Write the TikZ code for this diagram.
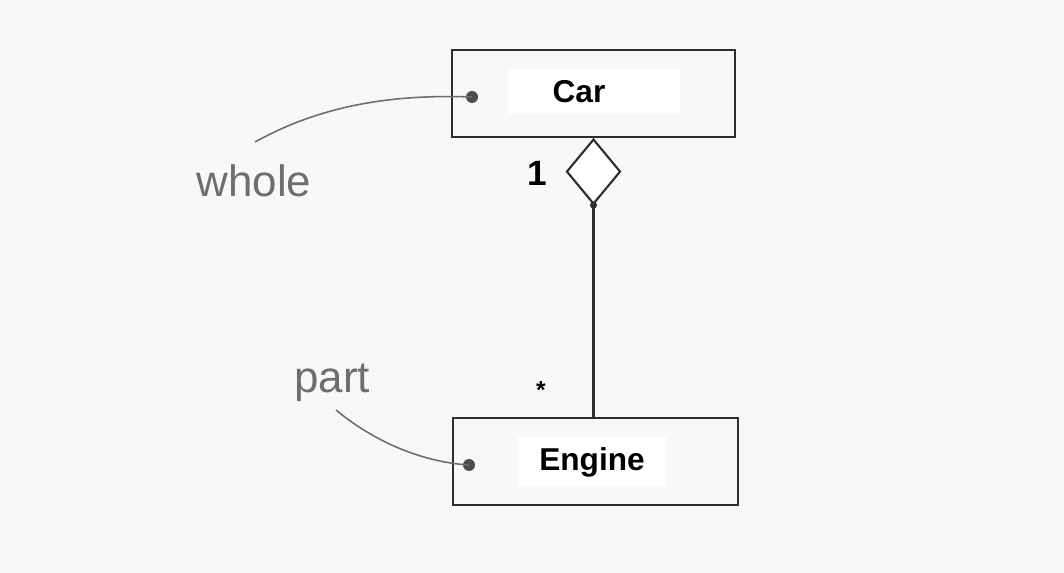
\documentclass[tikz,border=0pt]{standalone}
\usepackage{fontspec}
\setmainfont{Liberation Sans}
\usetikzlibrary{shapes.geometric}
\definecolor{boxline}{HTML}{2E2E2E}
\definecolor{notegray}{HTML}{6E6E6E}
\definecolor{paper}{HTML}{F8F8F8}

\begin{document}
\begin{tikzpicture}[x=0.02cm,y=-0.02cm,
  classbox/.style={rectangle,draw=boxline,line width=1.2pt,inner sep=0pt},
  namebox/.style={rectangle,fill=white,inner sep=0pt},
  classname/.style={inner sep=0pt,font=\fontsize{18}{20}\selectfont\bfseries},
  rolenote/.style={text=notegray,inner sep=0pt,font=\fontsize{25}{28}\selectfont},
  roleline/.style={notegray,line width=0.9pt},
  enddot/.style={circle,fill=boxline!85,inner sep=0pt,minimum size=0.24cm},
  mult/.style={inner sep=0pt,font=\fontsize{20}{22}\selectfont\bfseries}]

% ---- page ----------------------------------------------------------------
\fill[paper] (0,0) rectangle (1064,573);
\useasboundingbox (0,0) rectangle (1064,573);

% ---- the two classes -----------------------------------------------------
\node[classbox,minimum width=5.66cm,minimum height=1.74cm] (car)    at (593.5,93.5)  {};
\node[namebox,minimum width=3.44cm,minimum height=0.9cm]   (carbg)  at (594,92)      {};
\node[classname] (carname) at (579,92) {Car};
\node[classbox,minimum width=5.7cm,minimum height=1.74cm]  (engine) at (595.5,461.5) {};
\node[namebox,minimum width=2.98cm,minimum height=1cm]     (enginebg) at (592,462)   {};
\node[classname] (enginename) at (592,462) {Engine};

% ---- aggregation ---------------------------------------------------------
\node[diamond,draw=boxline,fill=white,line width=1.2pt,inner sep=0pt,
  minimum width=1.08cm,minimum height=1.3cm,anchor=north] (agg) at (car.south) {};
\fill[boxline] (agg.south) circle (0.07cm);
\draw[boxline,line width=1.2pt] (agg.south) -- (agg.south |- engine.north);
\node[mult] (one)  at (537,173) {1};
\node[inner sep=0pt,font=\fontsize{14}{16}\selectfont\bfseries] (many) at (541,390) {*};

% ---- role notes ----------------------------------------------------------
\node[enddot] (cardot)    at (472,97)  {};
\node[enddot] (enginedot) at (469,465) {};
\node[rolenote] (whole) at (254,181) {whole};
\node[rolenote] (part)  at (332,383) {part};
\coordinate (wholeend) at (255,142);
\coordinate (partend)  at (336,410);
\draw[roleline] (wholeend) .. controls (320,106) and (390,94) .. (cardot.center);
\draw[roleline] (partend) .. controls (372,440) and (420,462) .. (enginedot.center);
\end{tikzpicture}
\end{document}
